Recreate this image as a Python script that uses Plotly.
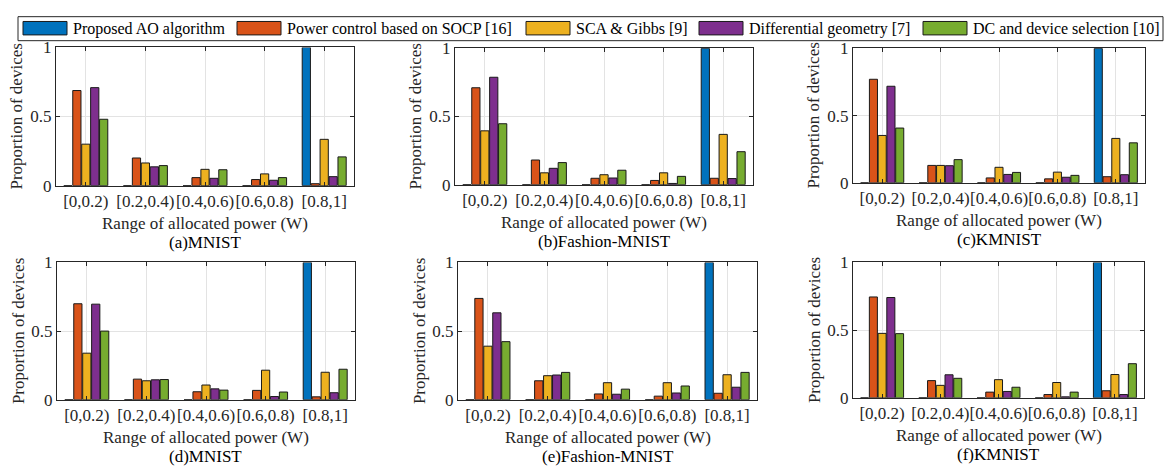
import plotly.graph_objects as go

categories = ["[0,0.2)", "[0.2,0.4)", "[0.4,0.6)", "[0.6,0.8)", "[0.8,1]"]
series_names = ["Proposed AO algorithm", "Power control based on SOCP [16]",
                "SCA & Gibbs [9]", "Differential geometry [7]", "DC and device selection [10]"]
colors = ["#0072BD", "#D95319", "#EDB120", "#7E2F8E", "#77AC30"]
panel_titles = ["(a)MNIST", "(b)Fashion-MNIST", "(c)KMNIST",
                "(d)MNIST", "(e)Fashion-MNIST", "(f)KMNIST"]

# values per panel: rows = series (AO, SOCP, SCA&Gibbs, DiffGeo, DC), cols = categories
data_a = [[0, 0, 0, 0, 1.0],
          [0.688, 0.200, 0.058, 0.044, 0.014],
          [0.300, 0.164, 0.118, 0.085, 0.335],
          [0.709, 0.136, 0.053, 0.039, 0.065],
          [0.480, 0.145, 0.115, 0.058, 0.208]]
data_b = [[0, 0, 0, 0, 1.0],
          [0.711, 0.181, 0.047, 0.031, 0.047],
          [0.395, 0.087, 0.073, 0.087, 0.369],
          [0.788, 0.120, 0.049, 0.009, 0.045],
          [0.447, 0.162, 0.106, 0.061, 0.242]]
data_c = [[0, 0, 0, 0, 1.0],
          [0.770, 0.129, 0.036, 0.029, 0.045],
          [0.352, 0.129, 0.115, 0.079, 0.330],
          [0.718, 0.127, 0.062, 0.041, 0.060],
          [0.407, 0.172, 0.077, 0.055, 0.297]]
data_d = [[0, 0, 0, 0, 1.0],
          [0.699, 0.150, 0.058, 0.068, 0.021],
          [0.339, 0.138, 0.107, 0.215, 0.200],
          [0.696, 0.145, 0.079, 0.023, 0.051],
          [0.500, 0.147, 0.070, 0.056, 0.222]]
data_e = [[0, 0, 0, 0, 1.0],
          [0.738, 0.138, 0.042, 0.026, 0.047],
          [0.390, 0.175, 0.124, 0.124, 0.182],
          [0.633, 0.180, 0.040, 0.049, 0.091],
          [0.423, 0.199, 0.077, 0.100, 0.199]]
data_f = [[0, 0, 0, 0, 1.0],
          [0.745, 0.127, 0.042, 0.024, 0.052],
          [0.476, 0.092, 0.134, 0.113, 0.172],
          [0.741, 0.170, 0.047, 0.007, 0.024],
          [0.474, 0.144, 0.078, 0.042, 0.252]]
panels = [data_a, data_b, data_c, data_d, data_e, data_f]

W, H = 1167, 475
# plot areas in pixels: (left, right, top, bottom)
boxes = [(56, 354, 40, 184), (455, 753, 41, 183), (853, 1145, 41, 181),
         (57, 355, 264, 407), (458, 757, 264, 407), (853, 1144, 264, 405)]

FONT = "Liberation Serif, Times New Roman, serif"
AX = "#262626"

fig = go.Figure()
layout = dict(
    width=W, height=H, margin=dict(l=0, r=0, t=0, b=0),
    paper_bgcolor="white", plot_bgcolor="white",
    barmode="group", bargap=0.25, bargroupgap=0.08,
    showlegend=False, font=dict(family=FONT, size=17, color=AX),
)
annotations = []
shapes = []

for p, (vals, box) in enumerate(zip(panels, boxes)):
    l, r, t, b = box
    sfx = "" if p == 0 else str(p + 1)
    for s in range(5):
        fig.add_trace(go.Bar(
            x=categories, y=vals[s], name=series_names[s],
            marker=dict(color=colors[s], line=dict(color="#1a1a1a", width=1)),
            xaxis="x" + sfx, yaxis="y" + sfx, showlegend=False,
        ))
    layout["xaxis" + sfx] = dict(
        domain=[l / W, r / W], anchor="y" + sfx, type="category",
        range=[-0.5, 4.5], showgrid=True, gridcolor="#e3e3e3", gridwidth=1,
        showline=True, linecolor=AX, linewidth=1, mirror="allticks",
        ticks="inside", ticklen=4, tickcolor=AX, tickangle=0,
        tickfont=dict(family=FONT, size=17, color=AX), zeroline=False,
    )
    layout["yaxis" + sfx] = dict(
        domain=[1 - b / H, 1 - t / H], anchor="x" + sfx,
        range=[0, 1], tickvals=[0, 0.5, 1], ticktext=["0", "0.5", "1"],
        showgrid=True, gridcolor="#e3e3e3", gridwidth=1,
        showline=True, linecolor=AX, linewidth=1, mirror="allticks",
        ticks="inside", ticklen=4, tickcolor=AX,
        tickfont=dict(family=FONT, size=17, color=AX), zeroline=False,
    )
    cx = (l + r) / 2 / W
    annotations.append(dict(
        text="Range of allocated power (W)", xref="paper", yref="paper",
        x=cx, y=1 - (b + 39) / H, showarrow=False, xanchor="center", yanchor="middle",
        font=dict(family=FONT, size=17, color=AX)))
    annotations.append(dict(
        text=panel_titles[p], xref="paper", yref="paper",
        x=cx, y=1 - (b + 59) / H, showarrow=False, xanchor="center", yanchor="middle",
        font=dict(family=FONT, size=17, color="black")))
    annotations.append(dict(
        text="Proportion of devices", xref="paper", yref="paper",
        x=(l - 39) / W, y=1 - (t + b) / 2 / H, showarrow=False, textangle=-90,
        xanchor="center", yanchor="middle",
        font=dict(family=FONT, size=17, color=AX)))

# legend box drawn at top
shapes.append(dict(type="rect", xref="paper", yref="paper",
                   x0=18 / W, x1=1163 / W, y0=1 - 33 / H, y1=1 - 8 / H,
                   line=dict(color=AX, width=1), fillcolor="white", layer="above"))
sw_left = [23, 237, 526, 699, 923]
for s in range(5):
    x0 = sw_left[s]
    shapes.append(dict(type="rect", xref="paper", yref="paper",
                       x0=x0 / W, x1=(x0 + 44) / W, y0=1 - 27 / H, y1=1 - 13 / H,
                       line=dict(color="#1a1a1a", width=1), fillcolor=colors[s], layer="above"))
    annotations.append(dict(
        text=series_names[s], xref="paper", yref="paper",
        x=(x0 + 48) / W, y=1 - 20.5 / H, showarrow=False, xanchor="left", yanchor="middle",
        font=dict(family=FONT, size=16, color="black")))

layout["annotations"] = annotations
layout["shapes"] = shapes
fig.update_layout(**layout)
fig.write_html("out.html")
